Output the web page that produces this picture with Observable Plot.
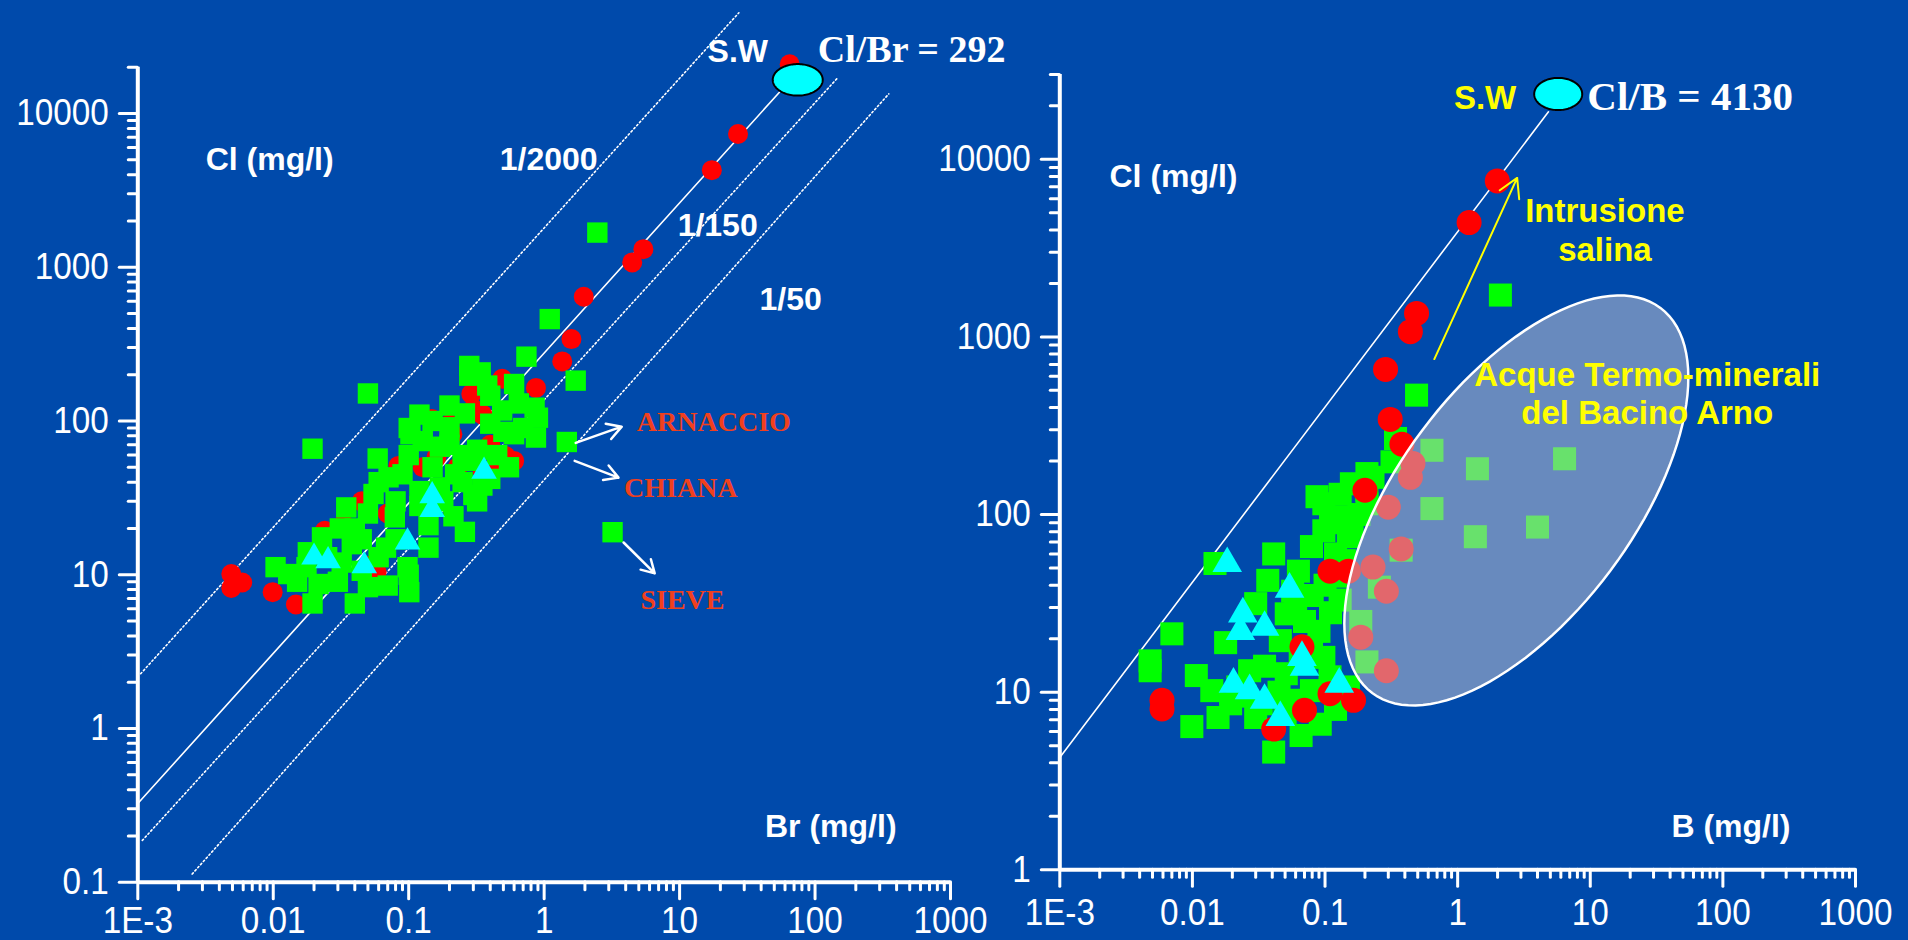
<!DOCTYPE html>
<html><head><meta charset="utf-8">
<script src="https://cdn.jsdelivr.net/npm/d3@7"></script>
<script src="https://cdn.jsdelivr.net/npm/@observablehq/plot@0.6"></script>
<style>
html,body{margin:0;padding:0;background:#004aab;}
#wrap{position:relative;width:1908px;height:940px;background:#004aab;overflow:hidden;}
#wrap svg{position:absolute;top:0;overflow:visible;}
</style></head><body><div id="wrap"></div>
<script>
// ---------- tick values and labels ----------
const xTicks = [0.001, 0.01, 0.1, 1, 10, 100, 1000];
const xTickLabels = ["1E-3", "0.01", "0.1", "1", "10", "100", "1000"];
const yTicksLeft = [0.1, 1, 10, 100, 1000, 10000];
const yTickLabelsLeft = ["0.1", "1", "10", "100", "1000", "10000"];
const yTicksRight = [1, 10, 100, 1000, 10000];
const yTickLabelsRight = ["1", "10", "100", "1000", "10000"];

// ---------- LEFT panel: Br (mg/l) vs Cl (mg/l) ----------
const leftRed = [
  [65, 20900], [27, 7350], [17.3, 4280], [5.4, 1310], [4.47, 1075], [1.96, 643], [1.59, 341],
  [1.36, 244], [0.87, 164], [0.49, 188], [0.29, 150], [0.148, 103], [0.21, 82], [0.52, 59],
  [0.084, 51], [0.127, 50], [0.23, 50], [0.35, 48], [0.45, 52], [0.0049, 10.1], [0.0059, 8.9],
  [0.0049, 8.2], [0.0099, 7.7], [0.0147, 6.4], [0.058, 10.4], [0.05, 11.4], [0.033, 21.3],
  [0.024, 19.3], [0.3, 120], [0.35, 110], [0.2, 95], [0.4, 70], [0.6, 55], [0.16, 58],
  [0.045, 30], [0.07, 25]
];
const leftGreen = [
  [2.47, 1680], [1.1, 460], [0.74, 262], [1.71, 183], [0.28, 228], [0.34, 207], [0.28, 197],
  [0.6, 174], [0.05, 151], [0.4, 146], [0.85, 122], [0.2, 126], [0.26, 112], [0.49, 117],
  [1.47, 73], [0.87, 78], [0.0195, 66], [0.059, 57], [0.103, 82], [0.127, 74], [0.17, 68],
  [0.2, 91], [0.4, 96], [0.6, 82], [0.32, 65], [0.55, 50], [3.2, 18.9],
  [0.0104, 11.2], [0.0176, 11.2], [0.0229, 17.5], [0.0216, 8.7], [0.0195, 6.5], [0.0129, 10.1],
  [0.0346, 27.4], [0.038, 15.8], [0.04, 6.5], [0.05, 8.3], [0.055, 33.5], [0.068, 15],
  [0.098, 11.2], [0.101, 7.7], [0.1, 10], [0.14, 21], [0.214, 24], [0.32, 30], [0.26, 19],
  [0.071, 43], [0.17, 37], [0.079, 23.6], [0.031, 20], [0.045, 10.6], [0.14, 15],
  [0.1, 60], [0.09, 45], [0.12, 35], [0.15, 50], [0.25, 40], [0.3, 55], [0.08, 30], [0.06, 40],
  [0.04, 20], [0.025, 13], [0.03, 9], [0.015, 9], [0.06, 13], [0.08, 17], [0.12, 28], [0.18, 30],
  [0.22, 45], [0.35, 38], [0.45, 60], [0.7, 90], [0.9, 105], [0.15, 100], [0.12, 110], [0.1, 90],
  [0.2, 70], [0.65, 130], [0.38, 170], [0.5, 85], [0.25, 60], [0.018, 14], [0.045, 17],
  [0.032, 12], [0.07, 8.5], [0.05, 25], [0.3, 33], [0.4, 42]
];
const leftCyan = [[0.0254, 12.3], [0.047, 11.4], [0.098, 16.3], [0.149, 26.5], [0.149, 32.6], [0.36, 47], [0.02, 13]];
const leftSeaWater = [[74.5, 16550]];
const leftLines = [
  {ratio: "1/2000", pts: [[0.00105, 2.27], [27.4, 45200]]},
  {ratio: "292", pts: [[0.001, 0.325], [54.8, 13800]]},
  {ratio: "1/150", pts: [[0.00108, 0.187], [144.6, 16800]]},
  {ratio: "1/50", pts: [[0.00252, 0.113], [350, 13400]]}
];
const leftArrows = [
  [1.71, 72, 3.74, 91.8],
  [1.68, 55, 3.54, 42.8],
  [3.86, 16.2, 6.55, 10.2]
];
const leftBoldNotes = [["Cl (mg/l)", 0.0094, 5000], ["1/2000", 1.08, 5000], ["1/150", 19.1, 1862], ["1/50", 66, 615], ["S.W", 26.9, 25200], ["Br (mg/l)", 130.6, 0.23]];
const leftSerifNotes = [["ARNACCIO", 17.9, 98.9], ["CHIANA", 10.2, 36.8], ["SIEVE", 10.5, 6.8]];
const leftRatioNote = [["Cl/Br = 292", 104.7, 25900]];

// ---------- RIGHT panel: B (mg/l) vs Cl (mg/l) ----------
const rightRed = [
  [1.99, 7550], [1.22, 4400], [0.49, 1356], [0.44, 1070], [0.286, 656], [0.31, 343], [0.38, 249],
  [0.46, 194], [0.44, 162], [0.2, 137], [0.109, 48], [0.15, 48], [0.067, 18], [0.109, 9.8],
  [0.164, 9], [0.0059, 8.05], [0.0059, 9], [0.041, 6.2], [0.07, 7.9], [0.375, 64], [0.29, 37],
  [0.186, 20.4], [0.29, 13.2], [0.23, 50.6], [0.3, 110]
];
const rightGreen = [
  [2.1, 1720], [0.49, 470], [0.34, 268], [0.32, 198], [0.64, 230], [1.41, 181], [6.4, 206],
  [4.0, 85], [1.36, 75], [0.64, 108], [0.375, 63], [0.257, 39], [0.186, 25], [0.207, 14.8],
  [0.0048, 13.2], [0.0048, 15], [0.007, 21.3], [0.0107, 12.4], [0.0099, 6.4], [0.0178, 19],
  [0.0148, 53], [0.041, 60], [0.037, 42.6], [0.03, 31.5], [0.0194, 8.6], [0.03, 7.2], [0.041, 4.6],
  [0.066, 5.7], [0.092, 6.6], [0.087, 126], [0.158, 149], [0.207, 170], [0.135, 97], [0.098, 81],
  [0.079, 66], [0.063, 48], [0.057, 37], [0.051, 27.6], [0.07, 25], [0.046, 19.5], [0.079, 18],
  [0.051, 12.7], [0.098, 15.7], [0.109, 12.2], [0.15, 10.7], [0.027, 13.2], [0.022, 10.7],
  [0.014, 10.2], [0.0156, 7.2], [0.033, 8.6], [0.079, 10.2], [0.098, 115], [0.207, 137],
  [0.12, 60], [0.15, 75], [0.23, 162], [0.207, 115], [0.11, 90], [0.13, 130], [0.18, 100],
  [0.06, 30], [0.08, 35], [0.1, 40], [0.12, 45], [0.14, 55], [0.09, 22], [0.11, 28], [0.13, 33],
  [0.065, 15], [0.045, 10], [0.06, 9], [0.12, 8], [0.05, 7.5], [0.025, 9.5], [0.035, 14], [0.16, 85]
];
const rightCyan = [[0.0183, 53], [0.024, 27.6], [0.035, 23.2], [0.067, 15.7], [0.07, 13.8], [0.0204, 11.1], [0.027, 10.2], [0.035, 9], [0.046, 7.2], [0.128, 11.1], [0.054, 38], [0.023, 22]];
const rightSeaWater = [[5.73, 23300]];
const rightLine = [[0.001, 4.29], [4.84, 18500]];
const rightArrow = [[0.667, 750, 2.81, 7850]];
const thermalZoneCenter = [[2.77, 120]];
const rightBoldNotes = [["Cl (mg/l)", 0.0072, 7950], ["B (mg/l)", 115, 1.75]];
const rightYellowNotes = [["S.W", 1.61, 22400], ["Intrusione\nsalina", 12.9, 4050], ["Acque Termo-minerali\ndel Bacino Arno", 26.9, 486]];
const rightRatioNote = [["Cl/B = 4130", 56.6, 22400]];

// ---------- helpers ----------
const SANS = "Liberation Sans, Arial, Helvetica, sans-serif";
const SERIF = "Liberation Serif, Times New Roman, serif";

function ellipseSymbol(ratio, angleDeg) {
  return {
    draw(context, size) {
      const a = Math.sqrt(size / Math.PI), b = a * ratio, t = angleDeg * Math.PI / 180;
      const n = 120;
      for (let i = 0; i <= n; i++) {
        const u = 2 * Math.PI * i / n;
        const x = a * Math.cos(u) * Math.cos(t) - b * Math.sin(u) * Math.sin(t);
        const y = a * Math.cos(u) * Math.sin(t) + b * Math.sin(u) * Math.cos(t);
        if (i === 0) context.moveTo(x, y); else context.lineTo(x, y);
      }
      context.closePath();
    }
  };
}

function axisMarks(xDomain, yDomain, yTicks, yLabels, xPad) {
  const isMajor = (ticks) => (v) => ticks.some(t => Math.abs(t - v) / t < 1e-9);
  const xMinor = d3.scaleLog().domain(xDomain).ticks().filter(v => !isMajor(xTicks)(v));
  const yMinor = d3.scaleLog().domain(yDomain).ticks().filter(v => !isMajor(yTicks)(v));
  const xMap = new Map(xTicks.map((t, i) => [t, xTickLabels[i]]));
  const yMap = new Map(yTicks.map((t, i) => [t, yLabels[i]]));
  const common = {stroke: "white", strokeWidth: 3, strokeLinecap: "round", fill: "white", fontSize: 37, fontFamily: SANS, label: null};
  return [
    Plot.axisX({...common, ticks: xMinor, tickSize: 8, tickFormat: () => ""}),
    Plot.axisY({...common, ticks: yMinor, tickSize: 9, tickFormat: () => ""}),
    Plot.axisX({...common, ticks: xTicks, tickSize: 17, tickPadding: xPad, tickFormat: d => xMap.get(d)}),
    Plot.axisY({...common, ticks: yTicks, tickSize: 18, tickPadding: 11, tickFormat: d => yMap.get(d)}),
    Plot.ruleX([xDomain[0]], {stroke: "white", strokeWidth: 4}),
    Plot.ruleY([yDomain[0]], {stroke: "white", strokeWidth: 4})
  ];
}

function narrowTicks(svg, k) {
  svg.querySelectorAll('g[aria-label="x-axis tick label"] text, g[aria-label="y-axis tick label"] text').forEach(t => {
    const tr = t.getAttribute("transform") || "";
    const x = +t.getAttribute("x") || 0, y = +t.getAttribute("y") || 0;
    t.setAttribute("transform", `${tr} translate(${x},${y}) scale(${k},1) translate(${-x},${-y})`);
  });
}

const P = d => d[0], Q = d => d[1];
const wrap = document.getElementById("wrap");

// ---------- LEFT chart ----------
const xDomL = [0.001, 1000], yDomL = [0.1, 20000];
const left = Plot.plot({
  width: 960, height: 940,
  marginLeft: 137.3, marginRight: 10, marginTop: 66.7, marginBottom: 58.3,
  style: {background: "transparent", overflow: "visible", color: "white"},
  x: {type: "log", domain: xDomL},
  y: {type: "log", domain: yDomL},
  marks: [
    ...axisMarks(xDomL, yDomL, yTicksLeft, yTickLabelsLeft, 8),
    ...leftLines.map(l => Plot.line(l.pts, {x: P, y: Q, stroke: "white", strokeWidth: l.ratio === "292" ? 1.6 : 1.6, strokeDasharray: l.ratio === "292" ? null : "1.6,2.6"})),
    Plot.dot(leftRed, {x: P, y: Q, r: 10, fill: "#ff0000"}),
    Plot.dot(leftGreen, {x: P, y: Q, r: 11.5, symbol: "square", fill: "#00ff00"}),
    Plot.dot(leftCyan, {x: P, y: Q, r: 9.5, symbol: "triangle", fill: "#00ffff"}),
    Plot.dot(leftSeaWater, {x: P, y: Q, r: 25, symbol: ellipseSymbol(0.63, 0), fill: "#00ffff", stroke: "black", strokeWidth: 2}),
    Plot.arrow(leftArrows, {x1: d => d[0], y1: d => d[1], x2: d => d[2], y2: d => d[3], stroke: "white", strokeWidth: 2.5, headLength: 14}),
    Plot.text(leftBoldNotes, {x: d => d[1], y: d => d[2], text: d => d[0], fill: "white", fontWeight: "bold", fontSize: 32, fontFamily: SANS, textAnchor: "middle"}),
    Plot.text(leftSerifNotes, {x: d => d[1], y: d => d[2], text: d => d[0], fill: "#f0401e", fontWeight: "bold", fontSize: 28, fontFamily: SERIF, textAnchor: "middle"}),
    Plot.text(leftRatioNote, {x: d => d[1], y: d => d[2], text: d => d[0], fill: "white", fontWeight: "bold", fontSize: 38, fontFamily: SERIF, textAnchor: "start"})
  ]
});
left.style.left = "0px";
narrowTicks(left, 0.9);
wrap.appendChild(left);

// ---------- RIGHT chart ----------
const xDomR = [0.001, 1000], yDomR = [1, 30000];
const right = Plot.plot({
  width: 948, height: 940,
  marginLeft: 99.3, marginRight: 53, marginTop: 74, marginBottom: 70.7,
  style: {background: "transparent", overflow: "visible", color: "white"},
  x: {type: "log", domain: xDomR},
  y: {type: "log", domain: yDomR},
  marks: [
    ...axisMarks(xDomR, yDomR, yTicksRight, yTickLabelsRight, 12),
    Plot.line(rightLine, {x: P, y: Q, stroke: "white", strokeWidth: 1.6}),
    Plot.dot(rightGreen, {x: P, y: Q, r: 13, symbol: "square", fill: "#00ff00"}),
    Plot.dot(rightRed, {x: P, y: Q, r: 12.5, fill: "#ff0000"}),
    Plot.dot(rightCyan, {x: P, y: Q, r: 11, symbol: "triangle", fill: "#00ffff"}),
    Plot.dot(thermalZoneCenter, {x: P, y: Q, r: 240.5, symbol: ellipseSymbol(0.488, -53.2), fill: "#c8c6d0", fillOpacity: 0.52, stroke: "white", strokeWidth: 2.5}),
    Plot.dot(rightSeaWater, {x: P, y: Q, r: 24, symbol: ellipseSymbol(0.67, 0), fill: "#00ffff", stroke: "black", strokeWidth: 2}),
    Plot.arrow(rightArrow, {x1: d => d[0], y1: d => d[1], x2: d => d[2], y2: d => d[3], stroke: "#ffff00", strokeWidth: 2, headLength: 16}),
    Plot.text(rightBoldNotes, {x: d => d[1], y: d => d[2], text: d => d[0], fill: "white", fontWeight: "bold", fontSize: 32, fontFamily: SANS, textAnchor: "middle"}),
    Plot.text(rightYellowNotes, {x: d => d[1], y: d => d[2], text: d => d[0], fill: "#ffff00", fontWeight: "bold", fontSize: 33, lineHeight: 1.17, fontFamily: SANS, textAnchor: "middle"}),
    Plot.text(rightRatioNote, {x: d => d[1], y: d => d[2], text: d => d[0], fill: "white", fontWeight: "bold", fontSize: 41, fontFamily: SERIF, textAnchor: "middle"})
  ]
});
right.style.left = "960px";
narrowTicks(right, 0.9);
wrap.appendChild(right);
</script></body></html>
